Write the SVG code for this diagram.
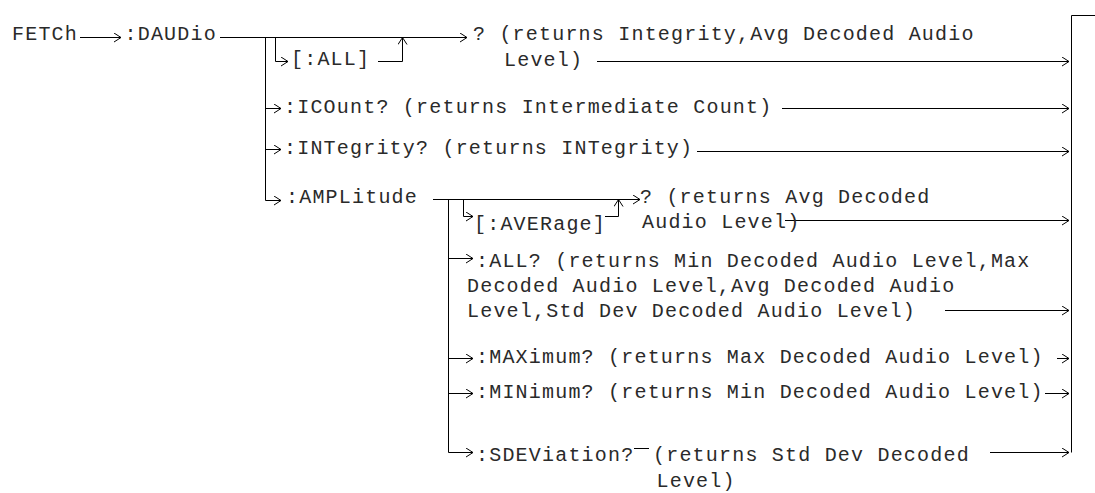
<svg xmlns="http://www.w3.org/2000/svg" width="1095" height="493" viewBox="0 0 1095 493">
<style>
text{font-family:"Liberation Mono","DejaVu Sans Mono",monospace;font-size:20px;letter-spacing:1.2px;fill:#2a2a2a}
.c{fill:none;stroke:#000;stroke-width:1}
.a{marker-end:url(#ah)}
</style>
<defs>
<marker id="ah" viewBox="0 0 8 10" refX="7.5" refY="5" markerWidth="8" markerHeight="10" markerUnits="userSpaceOnUse" orient="auto">
<path d="M0.5,0.5 L7.5,5 L0.5,9.5" fill="none" stroke="#000" stroke-width="1"/>
</marker>
</defs>
<rect width="1095" height="493" fill="#fff"/>
<g id="connectors">
<line class="c a" x1="80" y1="37.5" x2="121" y2="37.5"/>
<line class="c a" x1="220" y1="37.5" x2="467" y2="37.5"/>
<polyline class="c" points="265.5,37.5 265.5,200.5"/>
<polyline class="c a" points="275.5,37.5 275.5,61.5 288,61.5"/>
<polyline class="c a" points="378,61.5 402.5,61.5 402.5,37.5"/>
<line class="c a" x1="597" y1="61.5" x2="1069" y2="61.5"/>
<line class="c a" x1="265.5" y1="108.5" x2="281" y2="108.5"/>
<line class="c a" x1="782" y1="108.5" x2="1069" y2="108.5"/>
<line class="c a" x1="265.5" y1="149.5" x2="281" y2="149.5"/>
<line class="c a" x1="697" y1="151.5" x2="1069" y2="151.5"/>
<polyline class="c a" points="265.5,200.5 281,200.5"/>
<line class="c a" x1="433" y1="199.5" x2="640" y2="199.5"/>
<polyline class="c" points="448.5,199.5 448.5,452.5"/>
<polyline class="c a" points="463.5,199.5 463.5,216.5 473,216.5"/>
<polyline class="c a" points="605,216.5 618.5,216.5 618.5,199.5"/>
<line class="c a" x1="785" y1="220.5" x2="1069" y2="220.5"/>
<line class="c a" x1="448.5" y1="258.5" x2="473" y2="258.5"/>
<line class="c a" x1="945" y1="310.5" x2="1069" y2="310.5"/>
<line class="c a" x1="448.5" y1="358.5" x2="473" y2="358.5"/>
<line class="c a" x1="1057" y1="358.5" x2="1069" y2="358.5"/>
<line class="c a" x1="448.5" y1="393.5" x2="473" y2="393.5"/>
<line class="c a" x1="1045" y1="393.5" x2="1069" y2="393.5"/>
<polyline class="c a" points="448.5,452.5 473,452.5"/>
<line class="c" x1="634" y1="448.5" x2="649" y2="448.5"/>
<line class="c a" x1="990" y1="452.5" x2="1069" y2="452.5"/>
<polyline class="c" points="1095,15.5 1071.5,15.5 1071.5,452.5"/>
</g>
<g id="fetch"><text x="12" y="40">FETCh</text></g>
<g id="daudio"><text x="124.5" y="40">:DAUDio</text></g>
<g id="all"><text x="291" y="65">[:ALL]</text></g>
<g id="daudio-query"><text x="473" y="40">? (returns Integrity,Avg Decoded Audio</text><text x="504" y="66">Level)</text></g>
<g id="icount"><text x="284" y="113">:ICOunt? (returns Intermediate Count)</text></g>
<g id="integrity"><text x="284" y="154">:INTegrity? (returns INTegrity)</text></g>
<g id="amplitude"><text x="286" y="203">:AMPLitude</text></g>
<g id="average"><text x="474" y="230">[:AVERage]</text></g>
<g id="amplitude-query"><text x="640" y="203">? (returns Avg Decoded</text><text x="642" y="228">Audio Level)</text></g>
<g id="amp-all"><text x="476" y="267">:ALL? (returns Min Decoded Audio Level,Max</text><text x="467" y="292">Decoded Audio Level,Avg Decoded Audio</text><text x="467" y="317">Level,Std Dev Decoded Audio Level)</text></g>
<g id="maximum"><text x="476" y="363">:MAXimum? (returns Max Decoded Audio Level)</text></g>
<g id="minimum"><text x="476" y="398">:MINimum? (returns Min Decoded Audio Level)</text></g>
<g id="sdeviation"><text x="476" y="461">:SDEViation?</text><text x="653" y="461">(returns Std Dev Decoded</text><text x="656.5" y="487">Level)</text></g>
</svg>
